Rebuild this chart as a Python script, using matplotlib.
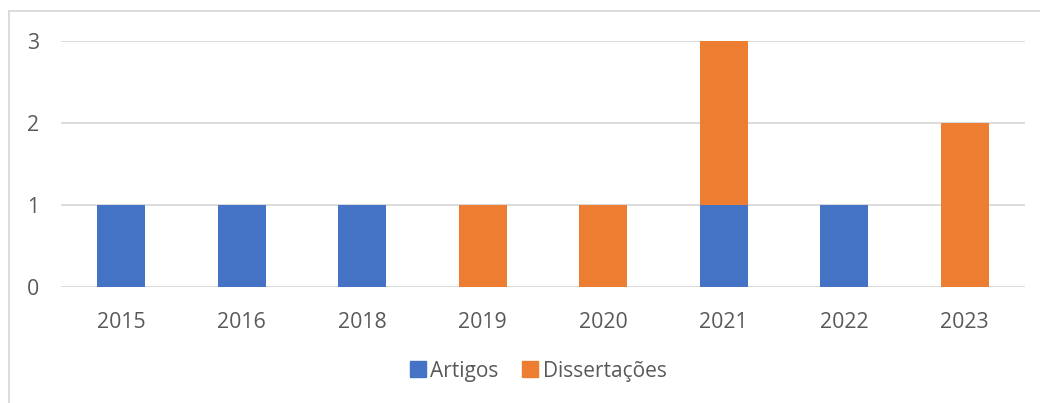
import matplotlib.pyplot as plt
from matplotlib.lines import Line2D
import numpy as np

years = ['2015', '2016', '2018', '2019', '2020', '2021', '2022', '2023']
artigos = [1, 1, 1, 0, 0, 1, 1, 0]
dissertacoes = [0, 0, 0, 1, 1, 2, 0, 2]

blue = '#4472C4'
orange = '#ED7D31'
txt = '#595959'

plt.rcParams['font.family'] = ['Open Sans', 'DejaVu Sans']

fig = plt.figure(figsize=(10.4, 4.03), dpi=100)
ax = fig.add_axes([61 / 1040, 1 - 287 / 403, (1025 - 61) / 1040, (287 - 41) / 403])

x = np.arange(len(years))
ax.bar(x, artigos, width=0.4, color=blue, zorder=3)
ax.bar(x, dissertacoes, width=0.4, bottom=artigos, color=orange, zorder=3)

ax.set_xlim(-0.5, len(years) - 0.5)
ax.set_ylim(0, 3)
ax.set_yticks([0, 1, 2, 3])
ax.set_xticks(x)
ax.set_xticklabels(years)
ax.grid(axis='y', color='#D9D9D9', linewidth=1.3, zorder=0)
for s in ax.spines.values():
    s.set_visible(False)
ax.tick_params(length=0, labelsize=15.3, colors=txt, pad=18)
ax.tick_params(axis='y', pad=20)
for lab in ax.get_yticklabels():
    lab.set_horizontalalignment('center')

handles = [Line2D([], [], marker='s', linestyle='', markersize=11, color=blue),
           Line2D([], [], marker='s', linestyle='', markersize=11, color=orange)]
leg = fig.legend(handles, ['Artigos', 'Dissertações'], loc='center',
                 bbox_to_anchor=(537 / 1040, 1 - 371 / 403), ncol=2, frameon=False,
                 fontsize=15, handletextpad=0.1, columnspacing=1.0, handlelength=1.0)
for t in leg.get_texts():
    t.set_color(txt)

# outer chart border (left and top visible)
fig.add_artist(Line2D([8.5 / 1040, 8.5 / 1040], [0, 1 - 11 / 403], color='#D9D9D9', lw=1.3))
fig.add_artist(Line2D([8.5 / 1040, 1], [1 - 11 / 403, 1 - 11 / 403], color='#D9D9D9', lw=1.3))

fig.savefig('out.png', dpi=100)
